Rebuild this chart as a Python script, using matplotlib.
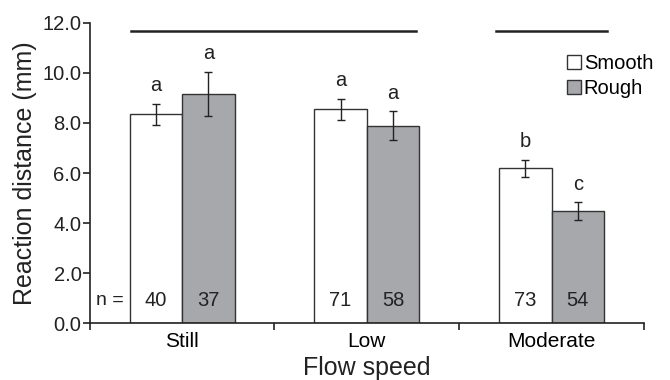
import numpy as np
import matplotlib.pyplot as plt

plt.rcParams['font.family'] = ['Liberation Sans', 'DejaVu Sans']

# data
speeds      = ['Still', 'Low', 'Moderate']
smooth_mean = [8.34, 8.54, 6.19]
smooth_se   = [0.43, 0.43, 0.33]
rough_mean  = [9.15, 7.89, 4.47]
rough_se    = [0.88, 0.57, 0.36]
smooth_n    = [40, 71, 73]
rough_n     = [37, 58, 54]
smooth_let  = ['a', 'a', 'b']
rough_let   = ['a', 'a', 'c']
# significance lines (x-start, x-end, y)
sig_lines   = [(0.222, 1.765, 11.67), (2.198, 2.80, 11.67)]

grey = '#a7a8ab'
edge = '#333333'
txt = '#222222'
w = 0.284

fig = plt.figure(figsize=(6.7, 3.8), dpi=100)
ax = fig.add_axes([0.134, 0.149, 0.827, 0.791])

x = np.arange(len(speeds)) + 0.5
ax.bar(x - w/2, smooth_mean, w, color='white', edgecolor=edge, linewidth=1, label='Smooth')
ax.bar(x + w/2, rough_mean, w, color=grey, edgecolor=edge, linewidth=1, label='Rough')
ax.errorbar(x - w/2, smooth_mean, yerr=smooth_se, fmt='none', ecolor=txt,
            elinewidth=1, capsize=3, capthick=1)
ax.errorbar(x + w/2, rough_mean, yerr=rough_se, fmt='none', ecolor=txt,
            elinewidth=1, capsize=3, capthick=1)

for i in range(len(speeds)):
    ax.text(x[i] - w/2, smooth_mean[i] + smooth_se[i] + 0.35, smooth_let[i],
            ha='center', va='bottom', fontsize=14.5, color=txt)
    ax.text(x[i] + w/2, rough_mean[i] + rough_se[i] + 0.35, rough_let[i],
            ha='center', va='bottom', fontsize=14.5, color=txt)
    ax.text(x[i] - w/2, 0.93, str(smooth_n[i]), ha='center', va='center',
            fontsize=14.5, color=txt)
    ax.text(x[i] + w/2, 0.93, str(rough_n[i]), ha='center', va='center',
            fontsize=14.5, color=txt)
ax.text(0.11, 0.93, 'n =', ha='center', va='center', fontsize=14, color=txt)

for x0, x1, y in sig_lines:
    ax.plot([x0, x1], [y, y], color=txt, linewidth=1.8, clip_on=False)

ax.set_xlim(0, 3)
ax.set_ylim(0, 12)
ax.set_yticks(np.arange(0, 12.1, 2))
ax.set_yticklabels(['%.1f' % v for v in np.arange(0, 12.1, 2)], fontsize=14.5)
ax.set_xticks([0, 1, 2, 3])
ax.set_xticklabels([])
ax.set_xticks(x, minor=True)
ax.set_xticklabels(speeds, minor=True, fontsize=15)
ax.tick_params(axis='x', which='minor', length=0, pad=6)
ax.tick_params(axis='both', which='major', length=5, width=1.2, color=txt,
               labelcolor=txt)
ax.tick_params(axis='y', pad=1)
for s in ['top', 'right']:
    ax.spines[s].set_visible(False)
for s in ['left', 'bottom']:
    ax.spines[s].set_linewidth(1.2)
    ax.spines[s].set_color(txt)

ax.set_ylabel('Reaction distance (mm)', fontsize=18, color=txt, labelpad=4)
ax.set_xlabel('Flow speed', fontsize=18, color=txt, labelpad=4)

ax.legend(loc='upper right', bbox_to_anchor=(1.035, 0.93), frameon=False, fontsize=14.5,
          handlelength=0.7, handleheight=0.7, handletextpad=0.15, labelspacing=0.3,
          borderpad=0)

fig.savefig('out.png', dpi=100)
